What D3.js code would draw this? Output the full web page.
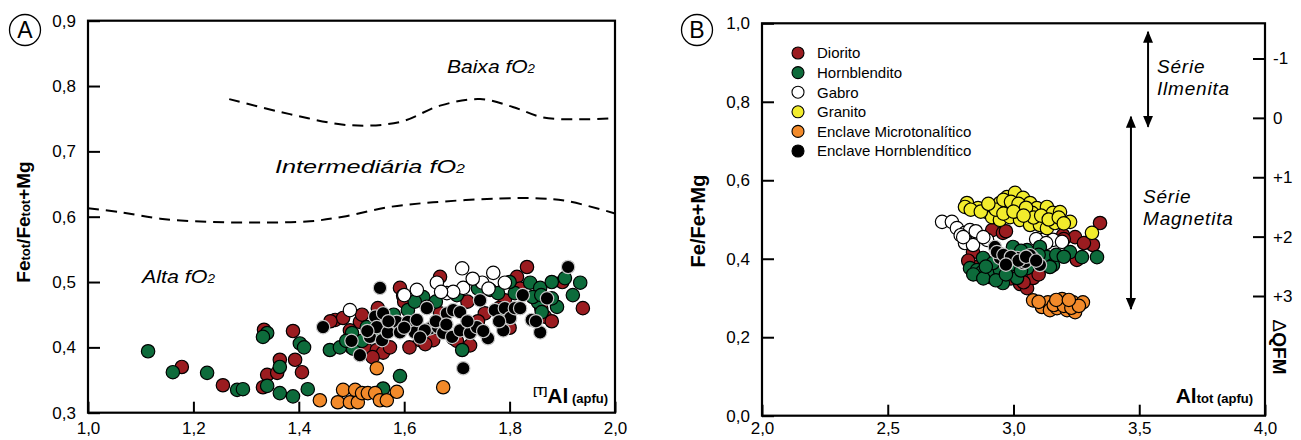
<!DOCTYPE html>
<html>
<head>
<meta charset="utf-8">
<script src="https://cdn.jsdelivr.net/npm/d3@7"></script>
<style>
  body { margin: 0; background: #fff; }
  svg { font-family: "Liberation Sans", Arial, sans-serif; }
</style>
</head>
<body>
<svg id="chart" width="1301" height="440"></svg>
<script>
// ---- Panel A : [T]Al vs Fetot/(Fetot+Mg) ----
const dioritoA = [
  [1.178,0.370],[1.256,0.342],[1.332,0.339],[1.334,0.427],[1.340,0.358],[1.359,0.361],
  [1.364,0.381],[1.389,0.425],[1.393,0.381],[1.406,0.362],[1.469,0.442],[1.484,0.445],
  [1.516,0.439],[1.529,0.396],[1.548,0.396],[1.560,0.392],[1.573,0.400],[1.592,0.491],
  [1.598,0.479],[1.630,0.411],[1.655,0.411],[1.668,0.452],[1.668,0.508],[1.693,0.414],
  [1.753,0.452],[1.814,0.508],[1.833,0.523],[1.867,0.447],[1.939,0.460],[1.725,0.403],
  [1.791,0.472],[1.497,0.426],[1.550,0.460],[1.580,0.440],[1.610,0.400],[1.640,0.405],
  [1.700,0.410],[1.740,0.440],[1.800,0.430],[1.780,0.460],[1.860,0.460],[1.880,0.440],
  [1.520,0.450],[1.460,0.440],[1.600,0.470],[1.720,0.470],[1.900,0.500],[1.500,0.400],
  [1.540,0.385],[1.820,0.490]
];
const hornblenditoA = [
  [1.114,0.394],[1.161,0.362],[1.226,0.361],[1.283,0.335],[1.294,0.336],[1.340,0.422],
  [1.332,0.416],[1.340,0.341],[1.364,0.370],[1.364,0.330],[1.389,0.325],[1.402,0.406],
  [1.410,0.400],[1.417,0.336],[1.459,0.396],[1.478,0.400],[1.501,0.422],[1.503,0.398],
  [1.529,0.431],[1.560,0.337],[1.592,0.356],[1.607,0.457],[1.636,0.477],[1.710,0.396],
  [1.763,0.488],[1.778,0.483],[1.810,0.483],[1.839,0.499],[1.858,0.491],[1.854,0.469],
  [1.890,0.462],[1.861,0.454],[1.880,0.500],[1.905,0.506],[1.934,0.499],[1.782,0.457],
  [1.844,0.477],[1.550,0.419],[1.490,0.410],[1.520,0.410],[1.580,0.450],[1.620,0.470],
  [1.660,0.470],[1.700,0.480],[1.740,0.490],[1.800,0.500],[1.860,0.480],[1.920,0.480],
  [1.880,0.475]
];
const gabroA = [
  [1.497,0.457],[1.624,0.488],[1.643,0.462],[1.662,0.499],[1.681,0.483],[1.710,0.521],
  [1.712,0.491],[1.748,0.499],[1.769,0.514],[1.791,0.499],[1.693,0.485],[1.600,0.480],
  [1.670,0.485],[1.730,0.505],[1.760,0.490]
];
const microA = [
  [1.440,0.319],[1.474,0.316],[1.484,0.335],[1.497,0.316],[1.507,0.335],[1.512,0.316],
  [1.520,0.330],[1.531,0.330],[1.545,0.330],[1.554,0.319],[1.567,0.319],[1.586,0.332],
  [1.548,0.368],[1.674,0.339]
];
const hornblA = [
  [1.554,0.491],[1.446,0.431],[1.516,0.388],[1.535,0.416],[1.545,0.447],[1.548,0.431],
  [1.558,0.411],[1.560,0.452],[1.569,0.423],[1.586,0.439],[1.592,0.423],[1.607,0.439],
  [1.620,0.423],[1.624,0.442],[1.643,0.460],[1.649,0.429],[1.664,0.431],[1.674,0.422],
  [1.681,0.452],[1.693,0.457],[1.691,0.416],[1.706,0.426],[1.725,0.422],[1.738,0.431],
  [1.744,0.472],[1.759,0.414],[1.772,0.457],[1.788,0.426],[1.791,0.460],[1.801,0.445],
  [1.810,0.460],[1.825,0.480],[1.842,0.442],[1.858,0.423],[1.871,0.475],[1.911,0.523],
  [1.712,0.368],[1.639,0.426],[1.706,0.454],[1.600,0.430],[1.630,0.415],[1.660,0.440],
  [1.680,0.435],[1.720,0.440],[1.750,0.425],[1.780,0.440],[1.820,0.460],[1.850,0.440],
  [1.570,0.440],[1.530,0.425],[1.500,0.410]
];
// fO2 field boundaries (dashed)
const upperBoundary = [
  [1.268,0.780],[1.383,0.757],[1.497,0.740],[1.592,0.745],[1.668,0.770],[1.744,0.780],
  [1.806,0.768],[1.863,0.752],[1.934,0.749],[2.0,0.751]
];
const lowerBoundary = [
  [1.0,0.613],[1.061,0.607],[1.137,0.597],[1.232,0.592],[1.326,0.591],[1.421,0.593],
  [1.484,0.600],[1.573,0.615],[1.655,0.622],[1.782,0.628],[1.858,0.628],[1.909,0.624],[2.0,0.605]
];
const xTicksA = [1.0, 1.2, 1.4, 1.6, 1.8, 2.0];
const yTicksA = [0.3, 0.4, 0.5, 0.6, 0.7, 0.8, 0.9];

// ---- Panel B : Altot vs Fe/(Fe+Mg) ----
const dioritoB = [
  [2.915,0.473],[2.958,0.466],[2.827,0.384],[2.847,0.379],[3.026,0.336],[3.054,0.325],
  [3.078,0.351],[3.197,0.460],[3.245,0.455],[3.252,0.397],[3.316,0.435],[3.344,0.491],
  [2.839,0.417],[2.820,0.395],[2.860,0.360],[2.990,0.350],[3.040,0.340],[3.100,0.360],
  [3.280,0.440],[3.200,0.450],[2.970,0.470],[3.120,0.450]
];
const hornblenditoB = [
  [2.827,0.376],[2.855,0.371],[2.875,0.366],[2.907,0.353],[2.915,0.358],[2.946,0.371],
  [2.958,0.338],[3.014,0.351],[2.998,0.430],[3.054,0.422],[3.105,0.430],[3.133,0.404],
  [3.157,0.384],[3.054,0.376],[3.145,0.379],[3.225,0.417],[3.272,0.404],[3.332,0.404],
  [2.879,0.402],[2.918,0.389],[2.986,0.384],[2.840,0.360],[2.880,0.350],[2.930,0.345],
  [2.970,0.360],[3.030,0.370],[3.080,0.400],[3.100,0.410],[3.030,0.420],[2.950,0.410],
  [2.890,0.380],[3.170,0.410],[3.200,0.405]
];
const gabroB = [
  [2.716,0.494],[2.755,0.494],[2.775,0.478],[2.807,0.466],[2.827,0.473],[2.859,0.455],
  [2.807,0.440],[2.839,0.435],[2.895,0.448],[3.117,0.448],[3.157,0.448],[3.193,0.443],
  [2.790,0.460],[2.850,0.470],[2.880,0.455],[2.800,0.455],[3.090,0.450],[3.130,0.440]
];
const granitoB = [
  [2.815,0.542],[2.807,0.532],[2.859,0.529],[2.895,0.519],[2.918,0.532],[2.946,0.542],
  [2.974,0.557],[3.006,0.568],[3.038,0.555],[3.066,0.542],[3.093,0.529],[3.133,0.532],
  [3.157,0.517],[3.185,0.519],[3.225,0.494],[2.915,0.506],[2.946,0.499],[2.986,0.506],
  [3.026,0.499],[3.066,0.486],[3.105,0.486],[3.133,0.478],[3.165,0.491],[2.986,0.532],
  [3.074,0.517],[3.312,0.466],[2.830,0.525],[2.870,0.520],[2.930,0.525],[2.960,0.550],
  [2.990,0.545],[3.020,0.540],[3.050,0.530],[3.080,0.505],[3.110,0.510],[3.140,0.500],
  [3.180,0.505],[3.200,0.490],[2.960,0.515],[3.000,0.520],[3.040,0.510],[2.900,0.540]
];
const microB = [
  [3.078,0.294],[3.113,0.277],[3.137,0.289],[3.145,0.269],[3.173,0.274],[3.185,0.294],
  [3.213,0.269],[3.237,0.289],[3.245,0.264],[3.276,0.289],[3.193,0.297],[3.100,0.290],
  [3.160,0.282],[3.200,0.280],[3.230,0.275],[3.260,0.280],[3.170,0.295],[3.220,0.295]
];
const hornblB = [
  [2.926,0.430],[2.946,0.402],[2.978,0.397],[3.014,0.402],[3.074,0.404],[3.105,0.384],
  [3.038,0.389],[2.934,0.417],[3.046,0.392],[3.066,0.409],[2.960,0.410],[2.990,0.405],
  [3.020,0.395],[3.050,0.405],[2.970,0.385],[3.090,0.395]
];
const xTicksB = [2.0, 2.5, 3.0, 3.5, 4.0];
const yTicksB = [0.0, 0.2, 0.4, 0.6, 0.8, 1.0];
const qfmTicks = [-1, 0, 1, 2, 3];
const qfmLabels = ["-1", "0", "+1", "+2", "+3"];

const legendNames = ["Diorito", "Hornblendito", "Gabro", "Granito", "Enclave Microtonalítico", "Enclave Hornblendítico"];
const legendColors = ["#9b1c20", "#0d6b3b", "#ffffff", "#f2ec2c", "#f28a2a", "#000000"];

const svg = d3.select("#chart");
const comma = d => d3.format(".1f")(d).replace(".", ",");

function circleLabel(cx, cy, letter) {
    svg.append("circle").attr("cx", cx).attr("cy", cy).attr("r", 15.5)
        .attr("fill", "none").attr("stroke", "#000").attr("stroke-width", 1.3);
    svg.append("text").attr("x", cx).attr("y", cy).attr("dy", "0.35em")
        .attr("text-anchor", "middle").style("font-size", "23px").text(letter);
}

function drawPoints(data, x, y, fill) {
    const black = fill === "#000000";
    svg.append("g").selectAll("circle").data(data).join("circle")
        .attr("cx", d => x(d[0])).attr("cy", d => y(d[1])).attr("r", 6.7)
        .attr("fill", fill)
        .attr("stroke", black ? "#c8c8c8" : "#000")
        .attr("stroke-width", 1.2);
}

function styleAxis(g) {
    g.select(".domain").remove();
    g.selectAll(".tick line").attr("stroke", "#000").attr("stroke-width", 2);
    g.selectAll(".tick text").style("font-size", "17px").attr("fill", "#000");
}

// ===== Panel A =====
const xA = d3.scaleLinear().domain([1, 2]).range([88, 615]);
const yA = d3.scaleLinear().domain([0.3, 0.9]).range([412.7, 20.7]);

svg.append("g").attr("transform", "translate(88,0)")
    .call(d3.axisLeft(yA).tickValues(yTicksA).tickFormat(comma).tickSizeInner(-12).tickSizeOuter(0).tickPadding(12))
    .call(styleAxis);
svg.append("g").attr("transform", "translate(0,412.7)")
    .call(d3.axisBottom(xA).tickValues(xTicksA).tickFormat(comma).tickSizeInner(-11).tickSizeOuter(0).tickPadding(9))
    .call(styleAxis);

const lineA = d3.line().x(d => xA(d[0])).y(d => yA(d[1])).curve(d3.curveCatmullRom);
[upperBoundary, lowerBoundary].forEach(b => {
    svg.append("path").attr("d", lineA(b)).attr("fill", "none")
        .attr("stroke", "#000").attr("stroke-width", 2).attr("stroke-dasharray", "11,7");
});

drawPoints(dioritoA, xA, yA, legendColors[0]);
drawPoints(hornblenditoA, xA, yA, legendColors[1]);
drawPoints(gabroA, xA, yA, legendColors[2]);
drawPoints(microA, xA, yA, legendColors[4]);
drawPoints(hornblA, xA, yA, legendColors[5]);

svg.append("rect").attr("x", 88).attr("y", 20.7).attr("width", 527).attr("height", 392)
    .attr("fill", "none").attr("stroke", "#000").attr("stroke-width", 2.2);

// field labels
function fieldLabel(x, y, name, len) {
    const t = svg.append("text").attr("x", x).attr("y", y)
        .style("font-size", "19px").style("font-style", "italic")
        .attr("textLength", len).attr("lengthAdjust", "spacingAndGlyphs");
    t.append("tspan").text(name + " fO");
    t.append("tspan").style("font-size", "12px").text("2");
}
fieldLabel(447, 73, "Baixa", 88);
fieldLabel(275, 173, "Intermediária", 190);
fieldLabel(142, 283, "Alta", 73);

// axis titles A
const ylabA = svg.append("text").attr("transform", "translate(30,222) rotate(-90)")
    .attr("text-anchor", "middle").style("font-size", "19px").style("font-weight", "bold");
ylabA.append("tspan").text("Fe");
ylabA.append("tspan").style("font-size", "13px").text("tot");
ylabA.append("tspan").text("/Fe");
ylabA.append("tspan").style("font-size", "13px").text("tot");
ylabA.append("tspan").text("+Mg");

const xlabA = svg.append("text").attr("x", 608).attr("y", 403)
    .attr("text-anchor", "end").style("font-weight", "bold");
xlabA.append("tspan").style("font-size", "11px").attr("dy", -8).text("[T]");
xlabA.append("tspan").style("font-size", "21px").attr("dy", 8).text("Al");
xlabA.append("tspan").style("font-size", "13px").text(" (apfu)");

circleLabel(25, 30, "A");

// ===== Panel B =====
const xB = d3.scaleLinear().domain([2, 4]).range([762, 1265]);
const yB = d3.scaleLinear().domain([0, 1]).range([415.7, 23.3]);
const qB = d3.scaleLinear().domain([-1, 3]).range([58.5, 296]);

svg.append("g").attr("transform", "translate(762,0)")
    .call(d3.axisLeft(yB).tickValues(yTicksB).tickFormat(comma).tickSizeInner(-12).tickSizeOuter(0).tickPadding(12))
    .call(styleAxis);
svg.append("g").attr("transform", "translate(0,415.7)")
    .call(d3.axisBottom(xB).tickValues(xTicksB).tickFormat(comma).tickSizeInner(-11).tickSizeOuter(0).tickPadding(6))
    .call(styleAxis);
svg.append("g").attr("transform", "translate(1265,0)")
    .call(d3.axisRight(qB).tickValues(qfmTicks).tickFormat((d, i) => qfmLabels[i]).tickSizeInner(-12).tickSizeOuter(0).tickPadding(8))
    .call(styleAxis);

drawPoints(dioritoB, xB, yB, legendColors[0]);
drawPoints(gabroB, xB, yB, legendColors[2]);
drawPoints(hornblenditoB, xB, yB, legendColors[1]);
drawPoints(granitoB, xB, yB, legendColors[3]);
drawPoints(microB, xB, yB, legendColors[4]);
drawPoints(hornblB, xB, yB, legendColors[5]);

svg.append("rect").attr("x", 762).attr("y", 23.3).attr("width", 503).attr("height", 392.4)
    .attr("fill", "none").attr("stroke", "#000").attr("stroke-width", 2.2);

// legend
const leg = svg.append("g").selectAll("g").data(legendNames).join("g")
    .attr("transform", (d, i) => `translate(798,${53 + i * 19.6})`);
leg.append("circle").attr("r", 6).attr("fill", (d, i) => legendColors[i])
    .attr("stroke", "#000").attr("stroke-width", 1.1);
leg.append("text").attr("x", 19).attr("dy", "0.36em").style("font-size", "15px").text(d => d);

// series arrows
const defs = svg.append("defs");
defs.append("marker").attr("id", "arr").attr("viewBox", "0 0 12 10")
    .attr("refX", 11).attr("refY", 5).attr("markerWidth", 12).attr("markerHeight", 10)
    .attr("markerUnits", "userSpaceOnUse").attr("orient", "auto-start-reverse")
    .append("path").attr("d", "M0,0 L12,5 L0,10 Z").attr("fill", "#000");

const seriesArrows = [
    { x: 3.535, from: -1.45, to: 0.15, lines: ["Série", "Ilmenita"], tx: 1157, ty: 73 },
    { x: 3.467, from: -0.02, to: 3.22, lines: ["Série", "Magnetita"], tx: 1143, ty: 203 }
];
seriesArrows.forEach(a => {
    svg.append("line").attr("x1", xB(a.x)).attr("x2", xB(a.x))
        .attr("y1", qB(a.from)).attr("y2", qB(a.to))
        .attr("stroke", "#000").attr("stroke-width", 2)
        .attr("marker-start", "url(#arr)").attr("marker-end", "url(#arr)");
    a.lines.forEach((s, i) => {
        svg.append("text").attr("x", a.tx).attr("y", a.ty + i * 21.5)
            .style("font-size", "19px").style("font-style", "italic")
            .style("letter-spacing", "0.8px").text(s);
    });
});

// axis titles B
svg.append("text").attr("transform", "translate(705,221) rotate(-90)")
    .attr("text-anchor", "middle").style("font-size", "20px").style("font-weight", "bold")
    .text("Fe/Fe+Mg");

const xlabB = svg.append("text").attr("x", 1253).attr("y", 403)
    .attr("text-anchor", "end").style("font-weight", "bold");
xlabB.append("tspan").style("font-size", "21px").text("Al");
xlabB.append("tspan").style("font-size", "13px").text("tot (apfu)");

const qlab = svg.append("text").attr("transform", "translate(1273,347) rotate(90)")
    .attr("text-anchor", "middle").style("font-size", "19px").style("font-weight", "bold");
qlab.append("tspan").style("font-weight", "normal").text("\u0394");
qlab.append("tspan").text("QFM");

circleLabel(697, 30, "B");
</script>
</body>
</html>
